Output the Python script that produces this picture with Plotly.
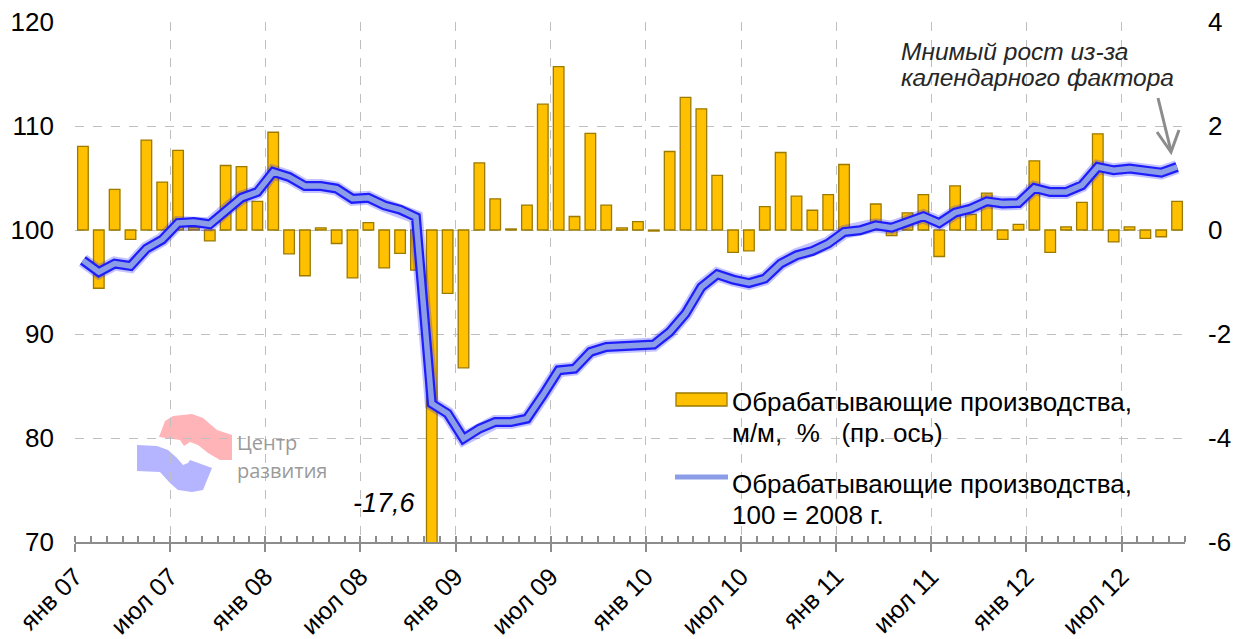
import plotly.graph_objects as go

# Monthly series, January 2007 - October 2012
months_ru = ["янв", "фев", "мар", "апр", "май", "июн", "июл", "авг", "сен", "окт", "ноя", "дек"]
years = ["07", "08", "09", "10", "11", "12"]
periods = [f"{m} {y}" for y in years for m in months_ru][:70]

# Manufacturing, month-on-month change, % (right axis)
mom_pct = [
    1.61, -1.12, 0.78, -0.18, 1.73, 0.92, 1.53, 0.05, -0.21, 1.24, 1.22, 0.55,
    1.88, -0.46, -0.88, 0.04, -0.26, -0.92, 0.14, -0.73, -0.45, -0.77, -17.6, -1.22,
    -2.65, 1.29, 0.60, 0.02, 0.48, 2.42, 3.14, 0.26, 1.86, 0.48, 0.04, 0.16,
    -0.02, 1.51, 2.55, 2.33, 1.05, -0.43, -0.40, 0.45, 1.49, 0.65, 0.38, 0.68,
    1.26, 0.05, 0.50, -0.11, 0.33, 0.68, -0.51, 0.85, 0.30, 0.71, -0.18, 0.11,
    1.33, -0.43, 0.06, 0.53, 1.85, -0.23, 0.06, -0.16, -0.13, 0.55,
]

# Manufacturing index, 2008 = 100 (left axis)
index_2008 = [
    97.08, 95.96, 96.77, 96.54, 98.21, 99.07, 100.67, 100.77, 100.55, 101.89, 103.10, 103.65,
    105.58, 105.10, 104.23, 104.23, 103.98, 103.00, 103.10, 102.37, 101.96, 101.25, 83.30, 82.35,
    79.94, 80.90, 81.54, 81.54, 81.86, 84.10, 86.51, 86.67, 88.27, 88.75, 88.85, 88.91,
    88.98, 90.19, 91.96, 94.52, 95.74, 95.23, 94.90, 95.33, 96.77, 97.57, 97.98, 98.70,
    99.81, 99.97, 100.45, 100.23, 100.77, 101.32, 100.67, 101.67, 102.06, 102.76, 102.54, 102.60,
    104.04, 103.65, 103.65, 104.30, 106.06, 105.74, 105.90, 105.67, 105.52, 106.06,
]

tick_labels = ["янв 07", "июл 07", "янв 08", "июл 08", "янв 09", "июл 09",
               "янв 10", "июл 10", "янв 11", "июл 11", "янв 12", "июл 12"]
right_ticks = [-6, -4, -2, 0, 2, 4]
right_tick_text = ["-6", "-4", "-2", "0", "2", "4"]
left_ticks = [70, 80, 90, 100, 110, 120]

FONT = "Liberation Sans, Arial, sans-serif"
W, H = 1244, 639
ML, MR, MT, MB = 75, 59, 22, 97
PW, PH = W - ML - MR, H - MT - MB

def px(x):
    return (x - ML) / PW

def py(y):
    return (H - MB - y) / PH

n = len(periods)
xs = list(range(n))
major_pos = [i - 0.5 for i in range(0, n, 6)]

fig = go.Figure()

fig.add_trace(go.Bar(
    x=xs, y=mom_pct, yaxis="y", width=0.67,
    marker=dict(color="#FFC000", line=dict(color="#9C7A00", width=1.3)),
    name="Обрабатывающие производства, м/м, % (пр. ось)",
    hovertext=periods, showlegend=False,
))

# Index line: soft glow, blue outline, light core
fig.add_trace(go.Scatter(x=xs, y=index_2008, yaxis="y2", mode="lines",
                         line=dict(color="rgba(40,40,255,0.28)", width=14),
                         showlegend=False, hoverinfo="skip"))
fig.add_trace(go.Scatter(x=xs, y=index_2008, yaxis="y2", mode="lines",
                         line=dict(color="#1E1EFA", width=10),
                         showlegend=False, hoverinfo="skip"))
fig.add_trace(go.Scatter(x=xs, y=index_2008, yaxis="y2", mode="lines",
                         line=dict(color="#8C9DE8", width=5.5),
                         name="Обрабатывающие производства, 100 = 2008 г.",
                         hovertext=periods, showlegend=False))

shapes = []
annotations = []

def text_line(x, y, s, size, color="#000000", family=FONT):
    annotations.append(dict(xref="paper", yref="paper", x=px(x), y=py(y),
                            xanchor="left", yanchor="middle", align="left",
                            showarrow=False, text=s,
                            font=dict(family=family, size=size, color=color)))

# Legend: bar sample and line sample
shapes.append(dict(type="rect", xref="paper", yref="paper",
                   x0=px(676), x1=px(727), y0=py(406), y1=py(393),
                   fillcolor="#FFC000", line=dict(color="#9C7A00", width=1.3)))
shapes.append(dict(type="line", xref="paper", yref="paper",
                   x0=px(675), x1=px(728), y0=py(477), y1=py(477),
                   line=dict(color="#8C9DE8", width=5)))
text_line(730, 402, "Обрабатывающие производства,", 26)
text_line(730, 433, "м/м,  %   (пр. ось)", 26)
text_line(730, 484, "Обрабатывающие производства,", 26)
text_line(730, 515, "100 = 2008 г.", 26)

# Value of the off-scale bar
annotations.append(dict(xref="paper", yref="paper", x=px(384), y=py(503),
                        xanchor="center", yanchor="middle", showarrow=False,
                        text="<i>-17,6</i>",
                        font=dict(family=FONT, size=27, color="#000000")))

# Comment on the last month
text_line(899, 51, "<i>Мнимый рост из-за</i>", 24.5, "#262626")
text_line(899, 78, "<i>календарного фактора</i>", 24.5, "#262626")
arrow_col = "#8C8C8C"
shapes.append(dict(type="line", xref="paper", yref="paper",
                   x0=px(1158), y0=py(98), x1=px(1171), y1=py(151),
                   line=dict(color=arrow_col, width=3)))
shapes.append(dict(type="path", xref="paper", yref="paper",
                   path=f"M {px(1157)},{py(132)} L {px(1171)},{py(152)} L {px(1179)},{py(130)}",
                   line=dict(color=arrow_col, width=3)))

# Watermark logo
pink = [(159, 437), (165, 421), (173, 416), (192, 414), (203, 418), (217, 430),
        (232, 435), (232, 460), (220, 460), (208, 453), (198, 445), (190, 442),
        (184, 446), (180, 440)]
blue = [(137, 445), (157, 446), (168, 450), (177, 458), (183, 465), (188, 463),
        (190, 460), (212, 468), (203, 490), (192, 492), (178, 490), (170, 483),
        (160, 472), (137, 471)]

def poly(pts):
    return "M " + " L ".join(f"{px(a)},{py(b)}" for a, b in pts) + " Z"

shapes.append(dict(type="path", xref="paper", yref="paper", path=poly(pink),
                   fillcolor="rgba(255,140,145,0.65)", line=dict(width=0), layer="below"))
shapes.append(dict(type="path", xref="paper", yref="paper", path=poly(blue),
                   fillcolor="rgba(140,140,255,0.65)", line=dict(width=0), layer="below"))
text_line(235, 442, "Центр", 20, "#9A9A9A", "Open Sans, sans-serif")
text_line(235, 470, "развития", 20, "#9A9A9A", "Open Sans, sans-serif")

fig.update_layout(
    width=W, height=H,
    margin=dict(l=ML, r=MR, t=MT, b=MB, pad=0, autoexpand=False),
    paper_bgcolor="white", plot_bgcolor="white",
    font=dict(family=FONT, size=26, color="#000000"),
    bargap=0.33,
    showlegend=False,
    xaxis=dict(
        range=[-0.5, n - 0.5], tickmode="array", tickvals=major_pos, ticktext=tick_labels,
        tickangle=-45, tickfont=dict(size=25), automargin=False,
        showgrid=True, gridcolor="#BFBFBF", griddash="dash", gridwidth=1,
        showline=True, linecolor="#8C8C8C", linewidth=2,
        ticks="outside", ticklen=8, tickcolor="#8C8C8C", tickwidth=1.5,
        minor=dict(tickmode="linear", tick0=-0.5, dtick=1, ticks="inside", ticklen=6,
                   tickcolor="#8C8C8C", tickwidth=1.5, showgrid=False),
        zeroline=False,
    ),
    yaxis=dict(
        range=[-6, 4], tickmode="array", tickvals=right_ticks, ticktext=right_tick_text,
        side="right", automargin=False,
        showgrid=True, gridcolor="#BFBFBF", griddash="dash", gridwidth=1,
        zeroline=False, showline=False, ticks="", ticklabelstandoff=22,
        tickfont=dict(size=26),
    ),
    yaxis2=dict(
        range=[70, 120], tickmode="array", tickvals=left_ticks,
        side="left", overlaying="y", automargin=False,
        showgrid=False, zeroline=False, showline=False, ticks="", ticklabelstandoff=20,
        tickfont=dict(size=26),
    ),
    shapes=shapes,
    annotations=annotations,
)

fig.write_html("out.html")
